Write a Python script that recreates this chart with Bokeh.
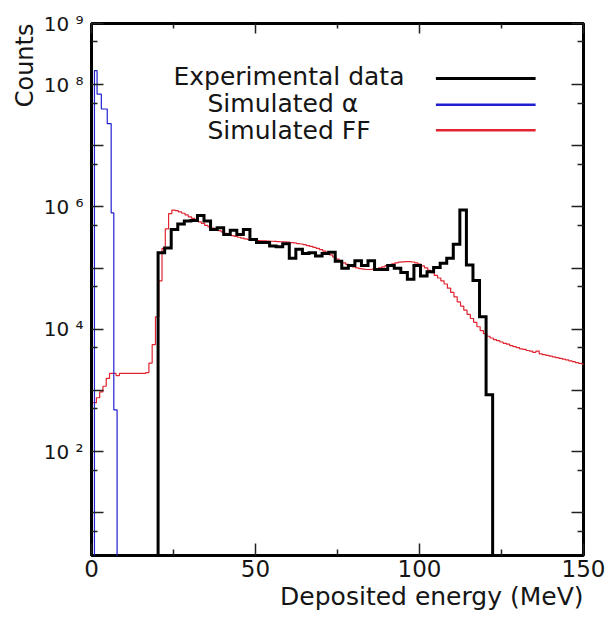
import numpy as np
from bokeh.plotting import figure
from bokeh.models import FixedTicker, LogAxis, LinearAxis, Label, Range1d, CustomJSTickFormatter, Title
from bokeh.embed import file_html
from bokeh.resources import INLINE

# ---------------- data ----------------
x_major_ticks = [0, 50, 100, 150]
x_minor_ticks = [25, 75, 125]
y_major_ticks = [1e1, 1e2, 1e3, 1e4, 1e5, 1e6, 1e7, 1e8, 1e9]
y_minor_ticks = [5e0, 5e1, 5e2, 5e3, 5e4, 5e5, 5e6, 5e7, 5e8]
y_label_values = [1e2, 1e4, 1e6, 1e8, 1e9]
y_label_texts = ["10 \u00b2", "10 \u2074", "10 \u2076", "10 \u2078", "10 \u2079"]

# Experimental data: 2 MeV bins starting at 20.3 MeV
exp_edges = list(np.arange(20.3, 20.3 + 2 * 52, 2.0)[:52])
exp_counts = [178000, 214000, 427000, 525000, 589000, 600000, 724000, 589000, 427000, 457000,
              355000, 417000, 355000, 427000, 295000, 263000, 263000, 229000, 224000, 251000,
              145000, 204000, 174000, 178000, 158000, 174000, 182000, 129000, 100000, 110000,
              132000, 110000, 132000, 95000, 95000, 110000, 100000, 85000, 66000, 110000,
              74000, 87000, 102000, 120000, 145000, 245000, 890000, 112000, 63000, 16000, 850]

# Simulated alpha
alpha_edges = [0.9, 1.7, 3.0, 4.8, 6.0, 6.8, 7.8]
alpha_counts = [1.7e8, 7.0e7, 4.0e7, 2.3e7, 8.0e5, 480]

# Simulated fission fragments: 1 MeV bins starting at 0.5 MeV
ff_edges = list(np.arange(0.5, 151.0, 1.0))
ff_counts = [630, 760, 950, 1170, 1580, 1900, 1900, 1750, 1900, 1900,
             1900, 1900, 1900, 1900, 1900, 1900, 1950, 2800, 5600, 16000,
             62000, 210000, 440000, 780000, 890000, 870000, 830000, 790000, 740000, 690000,
             650000, 610000, 570000, 540000, 500000, 470000, 450000, 430000, 410000, 390000,
             370000, 355000, 340000, 330000, 320000, 310000, 300000, 295000, 290000, 285000,
             282000, 280000, 278000, 276000, 275000, 274000, 272000, 270000, 268000, 266000,
             262000, 258000, 252000, 248000, 242000, 234000, 226000, 218000, 210000, 200000,
             190000, 178000, 165000, 152000, 140000, 130000, 122000, 115000, 110000, 105000,
             101000, 98000, 96000, 95000, 95000, 96000, 98000, 101000, 105000, 110000,
             114000, 118000, 122000, 125000, 127000, 128000, 128000, 126000, 122000, 116000,
             109000, 101000, 92000, 84000, 76000, 69000, 62000, 55000, 47000, 40000,
             34000, 28000, 24000, 20500, 17500, 15000, 13000, 11000, 9500, 8500,
             7700, 7200, 6800, 6500, 6200, 5900, 5700, 5400, 5200, 5000,
             4800, 4700, 4500, 4400, 4200, 4400, 3950, 3850, 3750, 3650,
             3550, 3450, 3350, 3250, 3150, 3050, 2950, 2850, 2780, 2700]

legend_names = ["Experimental data", "Simulated \u03b1", "Simulated FF"]
x_title = "Deposited energy (MeV)"
y_title = "Counts"

# ---------------- styling ----------------
X_MIN, X_MAX = 0, 150
Y_MIN, Y_MAX = 2, 1e9
FLOOR = 1.0
BLACK = "#000000"
BLUE = "#2020d0"
RED = "#e02530"
FONT = "DejaVu Sans"
TEXT_COLOR = "#151515"


def hist_path(edges, counts, closed):
    xs, ys = [], []
    if closed:
        xs.append(edges[0]); ys.append(FLOOR)
    for i, c in enumerate(counts):
        xs += [edges[i], edges[i + 1]]
        ys += [c, c]
    if closed:
        xs.append(edges[len(counts)]); ys.append(FLOOR)
    return xs, ys


p = figure(width=605, height=617, x_range=Range1d(X_MIN, X_MAX), y_range=Range1d(Y_MIN, Y_MAX),
           y_axis_type="log", output_backend="svg", toolbar_location=None,
           min_border_left=91, min_border_right=22, min_border_top=23, min_border_bottom=62)
p.grid.visible = False
p.background_fill_color = "white"
p.border_fill_color = "white"
p.outline_line_color = "black"
p.outline_line_width = 3

xt = FixedTicker(ticks=x_major_ticks, minor_ticks=x_minor_ticks)
yt = FixedTicker(ticks=y_major_ticks, minor_ticks=y_minor_ticks)
blank = CustomJSTickFormatter(code="return ''")
ylab = CustomJSTickFormatter(args=dict(vals=y_label_values, labs=y_label_texts), code="""
for (let i = 0; i < vals.length; i++) {
  if (Math.abs(Math.log10(tick) - Math.log10(vals[i])) < 1e-6) { return labs[i]; }
}
return '';
""")


def style_axis(ax, major_len, minor_len):
    ax.axis_line_color = None
    ax.major_tick_in = major_len
    ax.major_tick_out = 0
    ax.minor_tick_in = minor_len
    ax.minor_tick_out = 0
    ax.major_tick_line_color = "#222222"
    ax.minor_tick_line_color = "#222222"
    ax.major_tick_line_width = 1.5
    ax.minor_tick_line_width = 1.5


p.xaxis.ticker = xt
style_axis(p.xaxis[0], 12, 6)
p.xaxis.major_label_text_font = FONT
p.xaxis.major_label_text_font_size = "23px"
p.xaxis.major_label_text_color = TEXT_COLOR
p.xaxis.major_label_standoff = 4

p.yaxis.ticker = yt
p.yaxis.formatter = ylab
style_axis(p.yaxis[0], 12, 6)
p.yaxis.major_label_text_font = FONT
p.yaxis.major_label_text_font_size = "20px"
p.yaxis.major_label_text_color = TEXT_COLOR
p.yaxis.major_label_standoff = 8

top_ax = LinearAxis(ticker=xt, formatter=blank, major_label_text_font_size="1px", major_label_standoff=0)
style_axis(top_ax, 10, 5)
p.add_layout(top_ax, "above")
right_ax = LogAxis(ticker=yt, formatter=blank, major_label_text_font_size="1px", major_label_standoff=0)
style_axis(right_ax, 12, 6)
p.add_layout(right_ax, "right")

# axis titles
p.add_layout(Title(text=y_title, align="right", text_font=FONT, text_font_size="24px",
                   text_font_style="normal", text_color=TEXT_COLOR, standoff=4), "left")
p.add_layout(Title(text=x_title, align="right", text_font=FONT, text_font_size="25px",
                   text_font_style="normal", text_color=TEXT_COLOR, standoff=0), "below")

# histograms
fx, fy = hist_path(ff_edges, ff_counts, False)
p.line(fx, fy, line_color=RED, line_width=1.2)
ax_, ay_ = hist_path(alpha_edges, alpha_counts, True)
p.line(ax_, ay_, line_color=BLUE, line_width=1.2)
ex, ey = hist_path(exp_edges, exp_counts, True)
p.line(ex, ey, line_color=BLACK, line_width=3, line_join="miter")

# legend
leg_text_x = [82, 116, 116]
leg_text_dy = [-53, -80, -107]
leg_colors = [BLACK, BLUE, RED]
leg_widths = [3, 2.5, 2.5]
leg_line_x = [105, 135.4]
leg_line_y = [1.26e8, 4.7e7, 1.8e7]
for name, tx, dy, c, w, ly in zip(legend_names, leg_text_x, leg_text_dy, leg_colors, leg_widths, leg_line_y):
    p.add_layout(Label(x=X_MIN, y=Y_MAX, x_offset=tx, y_offset=dy, text=name, text_align="left",
                       text_baseline="middle", text_font=FONT, text_font_size="25px",
                       text_color=TEXT_COLOR))
    p.line(leg_line_x, [ly, ly], line_color=c, line_width=w)

open("out.html", "w").write(file_html(p, INLINE))
